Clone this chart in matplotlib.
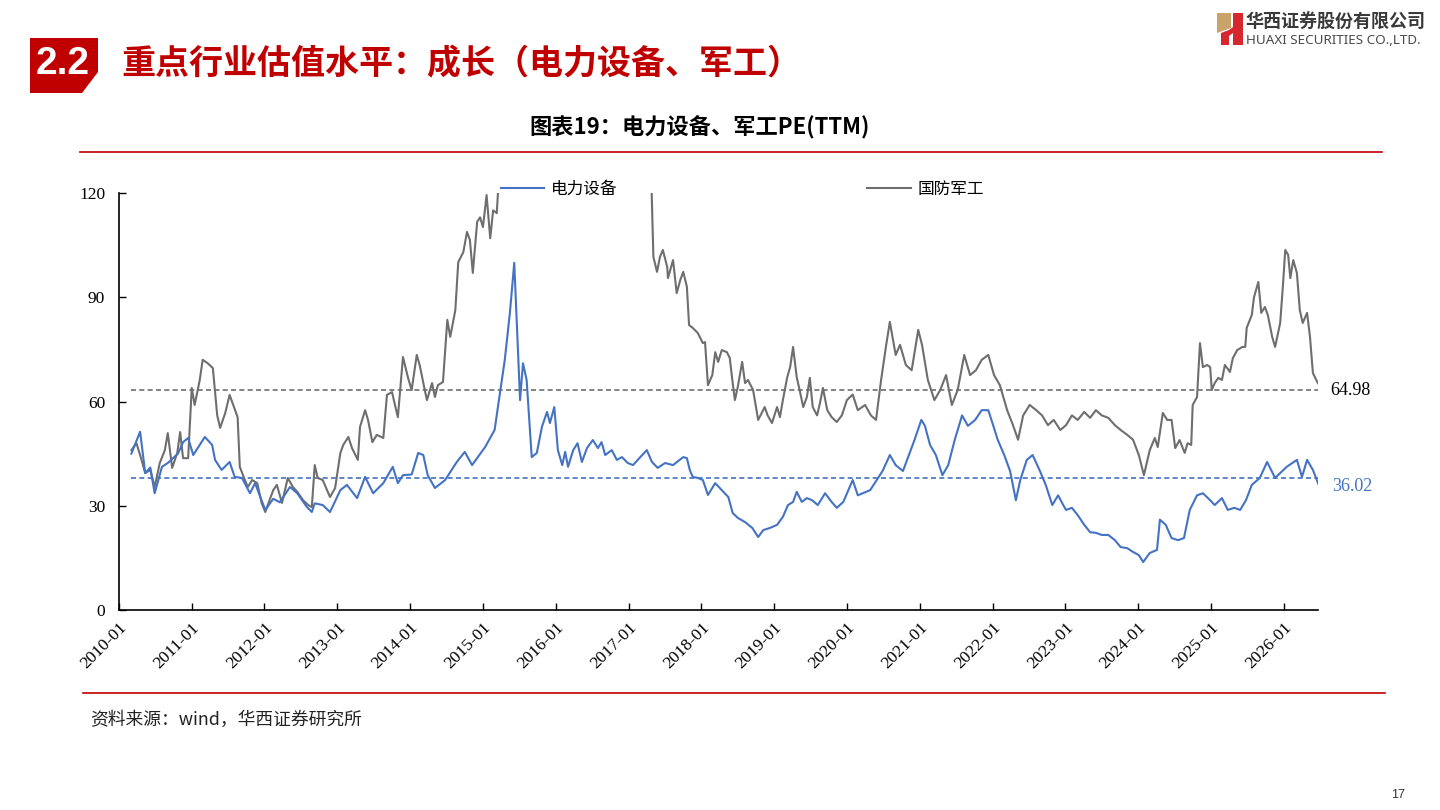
import matplotlib
matplotlib.use("Agg")
import matplotlib.pyplot as plt
from matplotlib.patches import Polygon
from matplotlib.lines import Line2D
import pandas as pd

plt.rcParams['font.family'] = ['Noto Sans CJK SC', 'DejaVu Sans']

# 电力设备 PE(TTM), x in decimal years
power_t = [2010.17, 2010.29, 2010.36, 2010.43, 2010.49, 2010.59, 2010.67, 2010.81, 2010.88, 2010.95,
           2011.02, 2011.18, 2011.28, 2011.32, 2011.41, 2011.52, 2011.59, 2011.69, 2011.80, 2011.87,
           2012.01, 2012.12, 2012.21, 2012.35, 2012.45, 2012.58, 2012.65, 2012.69, 2012.80, 2012.90,
           2013.04, 2013.13, 2013.27, 2013.38, 2013.49, 2013.63, 2013.76, 2013.83, 2013.90, 2014.02,
           2014.11, 2014.18, 2014.24, 2014.34, 2014.48, 2014.64, 2014.75, 2014.85, 2015.03, 2015.16,
           2015.26, 2015.30, 2015.37, 2015.43, 2015.51, 2015.55, 2015.60, 2015.67, 2015.74, 2015.81,
           2015.88, 2015.92, 2015.98, 2016.03, 2016.09, 2016.13, 2016.17, 2016.24, 2016.30, 2016.36,
           2016.43, 2016.51, 2016.58, 2016.63, 2016.68, 2016.77, 2016.84, 2016.91, 2016.99, 2017.06,
           2017.16, 2017.25, 2017.32, 2017.40, 2017.50, 2017.61, 2017.75, 2017.80, 2017.84, 2017.88,
           2017.95, 2018.02, 2018.09, 2018.19, 2018.28, 2018.37, 2018.43, 2018.50, 2018.60, 2018.70,
           2018.78, 2018.85, 2018.94, 2019.04, 2019.12, 2019.19, 2019.26, 2019.31, 2019.38, 2019.45,
           2019.52, 2019.60, 2019.70, 2019.79, 2019.86, 2019.95, 2020.01, 2020.08, 2020.15, 2020.32,
           2020.49, 2020.59, 2020.67, 2020.77, 2020.93, 2021.02, 2021.07, 2021.14, 2021.22, 2021.31,
           2021.39, 2021.48, 2021.58, 2021.66, 2021.76, 2021.85, 2021.94, 2022.01, 2022.07, 2022.16,
           2022.24, 2022.32, 2022.38, 2022.47, 2022.55, 2022.65, 2022.73, 2022.82, 2022.90, 2022.97,
           2023.01, 2023.09, 2023.17, 2023.26, 2023.34, 2023.42, 2023.50, 2023.59, 2023.68, 2023.76,
           2023.85, 2023.93, 2024.01, 2024.07, 2024.16, 2024.26, 2024.30, 2024.38, 2024.46, 2024.55,
           2024.63, 2024.71, 2024.81, 2024.89, 2024.99, 2025.05, 2025.15, 2025.23, 2025.32, 2025.40,
           2025.48, 2025.56, 2025.67, 2025.77, 2025.88, 2026.04, 2026.18, 2026.25, 2026.32, 2026.40,
           2026.48]
power_pe = [45.0, 51.3, 39.4, 41.0, 33.6, 41.2, 42.3, 45.0, 48.3, 49.5,
            44.6, 49.8, 47.5, 43.2, 40.3, 42.6, 38.3, 38.0, 33.6, 36.5,
            28.8, 32.0, 31.0, 35.4, 33.6, 29.7, 28.2, 30.7, 30.2, 28.2,
            34.5, 36.0, 32.2, 38.3, 33.6, 36.5, 41.2, 36.5, 38.8, 39.0,
            45.2, 44.6, 38.8, 35.1, 37.4, 42.6, 45.5, 41.7, 46.9, 51.8,
            66.2, 72.0, 85.5, 99.9, 60.4, 71.0, 66.2, 44.0, 45.2, 52.7,
            57.0, 53.8, 58.4, 46.0, 41.7, 45.5, 41.2, 46.0, 48.0, 42.6,
            46.6, 48.9, 46.6, 48.3, 44.6, 46.0, 43.2, 44.0, 42.3, 41.7,
            44.0, 46.0, 42.6, 40.9, 42.3, 41.7, 44.0, 43.7, 40.3, 38.3,
            38.0, 37.4, 33.1, 36.5, 34.5, 32.5, 27.9, 26.5, 25.3, 23.6,
            21.0, 23.0, 23.6, 24.5, 26.8, 30.2, 31.1, 34.0, 31.1, 32.2,
            31.6, 30.2, 33.6, 31.1, 29.4, 31.1, 34.0, 37.4, 33.0, 34.5,
            40.0, 44.6, 41.7, 40.0, 49.0, 54.7, 53.0, 47.5, 44.6, 38.8,
            41.7, 49.0, 56.0, 53.0, 54.7, 57.5, 57.5, 53.0, 49.0, 44.6,
            40.0, 31.6, 37.4, 43.2, 44.6, 40.0, 36.0, 30.2, 33.0, 30.2,
            28.8, 29.4, 27.3, 24.5, 22.4, 22.2, 21.6, 21.6, 20.1, 18.1,
            17.8, 16.7, 15.8, 13.8, 16.4, 17.3, 26.0, 24.5, 20.7, 20.1,
            20.7, 28.8, 33.0, 33.6, 31.6, 30.2, 32.2, 28.8, 29.4, 28.8,
            31.6, 36.0, 38.0, 42.6, 38.0, 41.2, 43.2, 38.3, 43.2, 40.3,
            36.0]

# 国防军工 PE(TTM); values above 120 are cut off by the axis
defense_t = [2010.17, 2010.24, 2010.29, 2010.36, 2010.43, 2010.49, 2010.56, 2010.63, 2010.67, 2010.73,
             2010.80, 2010.84, 2010.88, 2010.95, 2011.00, 2011.04, 2011.11, 2011.15, 2011.22, 2011.29,
             2011.35, 2011.39, 2011.46, 2011.52, 2011.57, 2011.63, 2011.66, 2011.73, 2011.77, 2011.83,
             2011.90, 2011.96, 2012.01, 2012.12, 2012.17, 2012.24, 2012.32, 2012.39, 2012.45, 2012.53,
             2012.60, 2012.65, 2012.69, 2012.73, 2012.80, 2012.90, 2012.97, 2013.04, 2013.08, 2013.15,
             2013.20, 2013.28, 2013.31, 2013.38, 2013.42, 2013.48, 2013.54, 2013.63, 2013.68, 2013.75,
             2013.79, 2013.83, 2013.90, 2013.97, 2014.02, 2014.09, 2014.13, 2014.20, 2014.23, 2014.30,
             2014.34, 2014.38, 2014.45, 2014.51, 2014.55, 2014.62, 2014.66, 2014.73, 2014.78, 2014.82,
             2014.86, 2014.92, 2014.96, 2015.00, 2015.05, 2015.10, 2015.14, 2015.19, 2015.22, 2015.35,
             2015.45, 2015.60, 2015.80, 2016.00, 2016.20, 2016.50, 2016.80, 2017.00, 2017.20, 2017.31,
             2017.34, 2017.39, 2017.43, 2017.47, 2017.53, 2017.54, 2017.61, 2017.66, 2017.71, 2017.75,
             2017.80, 2017.83, 2017.88, 2017.95, 2018.02, 2018.05, 2018.09, 2018.15, 2018.19, 2018.23,
             2018.28, 2018.35, 2018.39, 2018.42, 2018.46, 2018.50, 2018.56, 2018.60, 2018.64, 2018.71,
             2018.78, 2018.87, 2018.91, 2018.97, 2019.04, 2019.08, 2019.12, 2019.18, 2019.22, 2019.26,
             2019.31, 2019.35, 2019.40, 2019.45, 2019.49, 2019.53, 2019.59, 2019.63, 2019.67, 2019.73,
             2019.79, 2019.86, 2019.93, 2020.00, 2020.08, 2020.15, 2020.25, 2020.33, 2020.40, 2020.47,
             2020.54, 2020.59, 2020.67, 2020.73, 2020.81, 2020.89, 2020.98, 2021.03, 2021.11, 2021.20,
             2021.28, 2021.36, 2021.44, 2021.52, 2021.61, 2021.69, 2021.77, 2021.85, 2021.94, 2022.02,
             2022.10, 2022.20, 2022.28, 2022.35, 2022.42, 2022.51, 2022.60, 2022.68, 2022.76, 2022.84,
             2022.93, 2023.01, 2023.09, 2023.17, 2023.26, 2023.34, 2023.42, 2023.50, 2023.59, 2023.68,
             2023.76, 2023.85, 2023.93, 2024.01, 2024.08, 2024.16, 2024.23, 2024.27, 2024.34, 2024.40,
             2024.46, 2024.51, 2024.57, 2024.64, 2024.68, 2024.73, 2024.75, 2024.81, 2024.85, 2024.89,
             2024.95, 2024.99, 2025.01, 2025.05, 2025.10, 2025.15, 2025.19, 2025.26, 2025.30, 2025.36,
             2025.43, 2025.47, 2025.49, 2025.56, 2025.59, 2025.65, 2025.69, 2025.74, 2025.78, 2025.84,
             2025.88, 2025.95, 2025.99, 2026.02, 2026.06, 2026.09, 2026.13, 2026.18, 2026.22, 2026.26,
             2026.32, 2026.36, 2026.40, 2026.46, 2026.48]
defense_pe = [46.0, 48.0, 44.6, 39.4, 40.3, 35.4, 42.3, 46.0, 50.9, 40.9,
              45.2, 51.2, 43.7, 43.7, 63.9, 59.0, 66.2, 72.0, 71.0, 69.6,
              56.0, 52.4, 56.7, 61.9, 59.0, 55.5, 41.2, 37.4, 35.4, 37.4,
              36.5, 30.8, 28.2, 34.5, 36.0, 30.8, 38.0, 35.4, 34.0, 31.6,
              30.2, 29.6, 41.7, 38.0, 37.4, 32.5, 35.1, 45.2, 47.5, 49.8,
              46.6, 43.2, 52.7, 57.5, 54.7, 48.3, 50.4, 49.5, 61.9, 62.7,
              59.0, 55.5, 72.8, 66.8, 63.3, 73.4, 70.5, 63.3, 60.4, 65.3,
              61.3, 64.7, 65.6, 83.5, 78.6, 86.3, 100.1, 103.0, 108.8, 106.5,
              97.0, 111.7, 113.0, 110.2, 119.4, 107.0, 115.0, 114.2, 125.0, 150.0,
              185.0, 135.0, 140.0, 145.0, 128.0, 135.0, 132.0, 130.0, 128.0, 125.0,
              101.6, 97.3, 101.6, 103.6, 98.7, 95.5, 100.7, 91.2, 95.0, 97.3,
              93.0, 82.0, 81.2, 79.7, 76.8, 77.1, 64.7, 67.6, 74.2, 71.4,
              74.8, 74.2, 72.5, 67.0, 60.4, 64.2, 71.4, 65.3, 66.2, 63.3,
              54.7, 58.4, 56.0, 53.8, 58.4, 55.5, 60.4, 67.0, 69.9, 75.7,
              67.0, 63.3, 58.4, 61.3, 66.8, 58.4, 56.0, 59.6, 63.9, 57.5,
              55.5, 54.1, 56.0, 60.4, 62.0, 57.5, 59.0, 56.0, 54.7, 66.2,
              76.3, 82.9, 73.4, 76.3, 70.5, 69.0, 80.6, 76.3, 66.2, 60.4,
              63.3, 67.6, 59.0, 63.3, 73.4, 67.6, 69.0, 72.0, 73.4, 67.6,
              64.7, 57.5, 53.2, 49.0, 56.0, 59.0, 57.5, 56.0, 53.2, 54.7,
              51.8, 53.2, 56.0, 54.7, 57.0, 55.3, 57.5, 56.0, 55.3, 53.2,
              51.8, 50.4, 49.0, 44.6, 38.8, 46.0, 49.5, 46.9, 56.7, 54.7,
              54.7, 46.6, 48.9, 45.2, 48.0, 47.5, 59.0, 61.3, 76.8, 69.9,
              70.5, 69.9, 63.3, 65.3, 66.8, 66.2, 70.5, 68.5, 72.5, 74.8,
              75.7, 75.7, 81.2, 84.9, 90.0, 94.4, 85.5, 87.2, 84.9, 78.6,
              75.7, 82.6, 94.1, 103.6, 102.2, 95.5, 100.7, 97.0, 86.3, 82.6,
              85.5, 78.6, 68.2, 65.6, 65.0]

power_avg = 38.0
defense_avg = 63.3
power_last = "36.02"
defense_last = "64.98"
tick_years = list(range(2010, 2027))
y_ticks = [0, 30, 60, 90, 120]

BLUE = '#4472C4'
GRAY = '#6E6E6E'
RED = '#C00000'
W, H = 1440, 810


def to_dates(ts):
    out = []
    for t in ts:
        y = int(t)
        out.append(pd.Timestamp(year=y, month=1, day=1) + pd.Timedelta(days=(t - y) * 365.25))
    return out


def fx(x):
    return x / W


def fy(y):
    return 1 - y / H


fig = plt.figure(figsize=(14.4, 8.1), dpi=100)
fig.patch.set_facecolor('white')

# header badge and title
badge = Polygon([(fx(30), fy(38)), (fx(98), fy(38)), (fx(98), fy(72)), (fx(82), fy(93)), (fx(30), fy(93))],
                closed=True, transform=fig.transFigure, facecolor=RED, edgecolor='none')
fig.add_artist(badge)
fig.text(fx(63), fy(64), '2.2', color='white', fontsize=28, fontweight='bold',
         family=['Liberation Sans', 'DejaVu Sans'], ha='center', va='center')
fig.text(fx(121), fy(64), '重点行业估值水平：成长（电力设备、军工）', color=RED, fontsize=24.5,
         fontweight='bold', ha='left', va='center')

# company logo
logo_parts = [
    ([(1217, 13), (1231, 13), (1231, 28), (1217, 33)], '#C9A36A'),
    ([(1221, 33), (1229, 30), (1229, 45), (1221, 45)], '#D7282F'),
    ([(1233, 13), (1243, 13), (1243, 45), (1233, 45)], '#D7282F'),
    ([(1229, 30), (1233, 27), (1233, 33), (1229, 36)], '#D7282F'),
]
for pts, col in logo_parts:
    fig.add_artist(Polygon([(fx(a), fy(b)) for a, b in pts], closed=True,
                           transform=fig.transFigure, facecolor=col, edgecolor='none'))
fig.text(fx(1246), fy(22), '华西证券股份有限公司', color='#3A3A3A', fontsize=13,
         fontweight='bold', ha='left', va='center')
fig.text(fx(1246), fy(40), 'HUAXI SECURITIES CO.,LTD.', color='#4A4A4A', fontsize=9.7,
         family=['Noto Sans', 'DejaVu Sans'], ha='left', va='center')

# chart title and red rules
fig.text(fx(700), fy(128), '图表19：电力设备、军工PE(TTM)', color='black', fontsize=16,
         fontweight='bold', ha='center', va='center')
fig.add_artist(Line2D([fx(80), fx(1382)], [fy(152), fy(152)], color=RED, lw=1.2,
                      transform=fig.transFigure))
fig.add_artist(Line2D([fx(83), fx(1385)], [fy(693), fy(693)], color=RED, lw=1.2,
                      transform=fig.transFigure))
fig.text(fx(90), fy(720), '资料来源：wind，华西证券研究所', color='#222222', fontsize=12.8,
         style='italic', ha='left', va='center')
fig.text(fx(1398), fy(795), '17', color='#333333', fontsize=9,
         family=['Liberation Sans', 'DejaVu Sans'], ha='center', va='center')

# main chart
ax = fig.add_axes([fx(119), fy(610), (1318 - 119) / W, (610 - 193) / H])
power_dates = to_dates(power_t)
defense_dates = to_dates(defense_t)

ax.plot(power_dates, power_pe, color=BLUE, lw=1.5, label='电力设备', zorder=3)
ax.plot(defense_dates, defense_pe, color=GRAY, lw=1.5, label='国防军工', zorder=2)
ax.hlines(defense_avg, defense_dates[0], defense_dates[-1], colors=GRAY, lw=1.2,
          linestyles=(0, (3, 2)), zorder=1)
ax.hlines(power_avg, power_dates[0], power_dates[-1], colors=BLUE, lw=1.2,
          linestyles=(0, (3, 2)), zorder=1)

ax.annotate(defense_last, (defense_dates[-1], defense_avg), xytext=(8, 0), textcoords='offset points',
            color='black', fontsize=13, family=['Liberation Serif', 'DejaVu Serif'],
            ha='left', va='center', annotation_clip=False)
ax.annotate(power_last, (power_dates[-1], power_avg), xytext=(10, -6), textcoords='offset points',
            color=BLUE, fontsize=13, family=['Liberation Serif', 'DejaVu Serif'],
            ha='left', va='center', annotation_clip=False)

ax.set_xlim(pd.Timestamp('2010-01-01'), to_dates([2026.47])[0])
ax.set_ylim(0, 120)
ax.set_yticks(y_ticks)
ax.set_yticklabels([str(v) for v in y_ticks], family=['Liberation Serif', 'DejaVu Serif'], fontsize=12.5)
ax.set_xticks([pd.Timestamp(f'{y}-01-01') for y in tick_years])
ax.set_xticklabels([f'{y}-01' for y in tick_years], rotation=45, ha='right', rotation_mode='anchor',
                   family=['Liberation Serif', 'DejaVu Serif'], fontsize=12.5)
ax.tick_params(axis='both', direction='in', length=5, width=1, colors='black')
ax.tick_params(axis='y', pad=10)
ax.tick_params(axis='x', pad=7)
for side in ['top', 'right']:
    ax.spines[side].set_visible(False)
for side in ['left', 'bottom']:
    ax.spines[side].set_linewidth(1.2)
    ax.spines[side].set_color('black')

ax.legend(loc='center', bbox_to_anchor=(0.52, 1.008), ncol=2, frameon=False, fontsize=12,
          handlelength=2.6, handletextpad=0.4, columnspacing=15)

fig.savefig('out.png', dpi=100)
